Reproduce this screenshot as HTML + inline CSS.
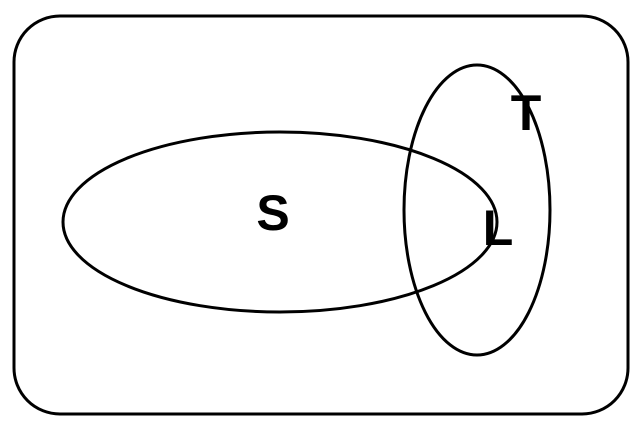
<!DOCTYPE html>
<html><head><meta charset="utf-8"><style>html,body{margin:0;padding:0;background:#fff;}svg{display:block}</style></head>
<body>
<svg width="642" height="430" viewBox="0 0 642 430" xmlns="http://www.w3.org/2000/svg">
<rect x="14" y="16" width="614" height="398" rx="46" ry="46" fill="none" stroke="#000" stroke-width="3"/>
<ellipse cx="280" cy="222" rx="217" ry="90" fill="none" stroke="#000" stroke-width="3"/>
<ellipse cx="477" cy="210" rx="73" ry="145" fill="none" stroke="#000" stroke-width="3"/>
<text x="273" y="230" font-family="Liberation Sans, sans-serif" font-weight="bold" font-size="50" text-anchor="middle">S</text>
<text x="526" y="130" font-family="Liberation Sans, sans-serif" font-weight="bold" font-size="50" text-anchor="middle">T</text>
<text x="498" y="245" font-family="Liberation Sans, sans-serif" font-weight="bold" font-size="50" text-anchor="middle">L</text>
</svg>
</body></html>
